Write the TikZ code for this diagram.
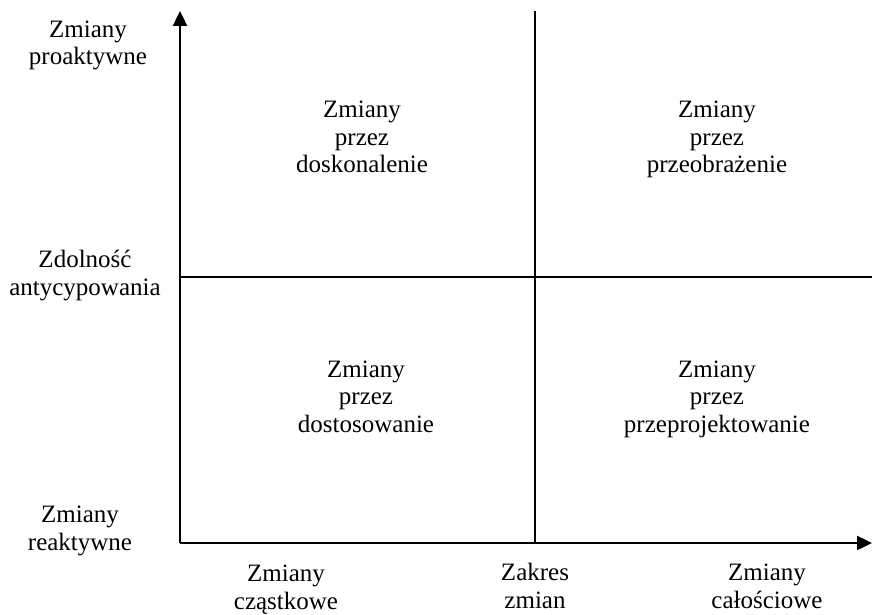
\documentclass[tikz,border=0pt]{standalone}
\usepackage{fontspec}
\setmainfont{Liberation Serif}
\usetikzlibrary{arrows.meta}
\tikzset{
  axis/.style={line width=2.4pt, -{Triangle[length=15pt,width=14pt]}},
  divider/.style={line width=1.2pt},
  lbl/.style={align=center, inner sep=0pt, anchor=base, font=\fontsize{25}{27.5}\selectfont},
}
\begin{document}
\begin{tikzpicture}[x=1pt,y=1pt]
\useasboundingbox (0,0) rectangle (872,614);
% Origin and axis ends
\coordinate (o) at (180,71);
\coordinate (ytop) at (180,603);
\coordinate (xend) at (872,71);

% Dividers
\coordinate (vtop) at (535,603);
\coordinate (vbot) at (535,71);
\coordinate (hleft) at (180,337);
\coordinate (hright) at (872,337);
\draw[divider] (vbot) -- (vtop);
\draw[divider] (hleft) -- (hright);

% Axes
\draw[axis] (o) -- (ytop);
\draw[axis] (o) -- (xend);

% Vertical axis labels (anchored on last line)
\node[lbl] (proakt) at (88,549) {Zmiany\\proaktywne};
\node[lbl] (zdol) at (85,319) {Zdolność\\antycypowania};
\node[lbl] (reakt) at (80,64) {Zmiany\\reaktywne};

% Horizontal axis labels
\node[lbl] (czast) at (286,5) {Zmiany\\cząstkowe};
\node[lbl] (zakres) at (535,6) {Zakres\\zmian};
\node[lbl] (calosc) at (767,6) {Zmiany\\całościowe};

% Quadrants
\node[lbl] (dosk) at (362,441) {Zmiany\\przez\\doskonalenie};
\node[lbl] (przeobr) at (717,441) {Zmiany\\przez\\przeobrażenie};
\node[lbl] (dostos) at (366,182) {Zmiany\\przez\\dostosowanie};
\node[lbl] (przeproj) at (717,182) {Zmiany\\przez\\przeprojektowanie};
\end{tikzpicture}
\end{document}
